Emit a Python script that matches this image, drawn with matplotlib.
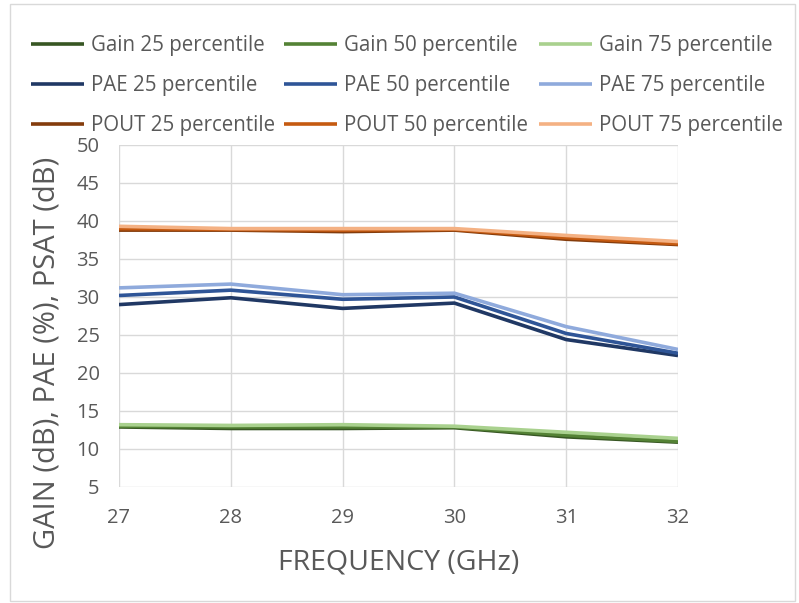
import matplotlib
matplotlib.use("Agg")
import matplotlib.pyplot as plt
from matplotlib.patches import Rectangle

freq = [27, 28, 29, 30, 31, 32]
gain_25 = [12.9, 12.7, 12.7, 12.8, 11.6, 10.9]
gain_50 = [13.0, 12.9, 12.9, 12.9, 11.8, 11.0]
gain_75 = [13.2, 13.1, 13.2, 13.0, 12.2, 11.4]
pae_25 = [29.0, 29.9, 28.5, 29.2, 24.4, 22.3]
pae_50 = [30.2, 30.9, 29.7, 30.0, 25.2, 22.6]
pae_75 = [31.2, 31.7, 30.3, 30.5, 26.1, 23.1]
pout_25 = [38.8, 38.8, 38.6, 38.8, 37.6, 36.9]
pout_50 = [39.0, 38.9, 38.8, 38.9, 37.8, 37.0]
pout_75 = [39.3, 39.0, 39.0, 39.0, 38.1, 37.3]
yticks = [5, 10, 15, 20, 25, 30, 35, 40, 45, 50]

series = [
    ("Gain 25 percentile", gain_25, "#375623"),
    ("Gain 50 percentile", gain_50, "#548235"),
    ("Gain 75 percentile", gain_75, "#A9D18E"),
    ("PAE 25 percentile", pae_25, "#203864"),
    ("PAE 50 percentile", pae_50, "#2F5597"),
    ("PAE 75 percentile", pae_75, "#8FAADC"),
    ("POUT 25 percentile", pout_25, "#843C0C"),
    ("POUT 50 percentile", pout_50, "#C55A11"),
    ("POUT 75 percentile", pout_75, "#F4B183"),
]

plt.rcParams['font.family'] = ['Open Sans', 'DejaVu Sans']
txt = "#595959"
fig = plt.figure(figsize=(7.99, 6.03), dpi=100)
W, H = 799, 603
ax = fig.add_axes([119 / W, 1 - 487 / H, (678 - 119) / W, (487 - 145) / H])

handles = []
for name, vals, col in series:
    ln, = ax.plot(freq, vals, color=col, lw=2.6, label=name, solid_capstyle='butt')
    handles.append(ln)

ax.set_xlim(27, 32)
ax.set_ylim(5, 50)
ax.set_yticks(yticks)
ax.set_xticks(freq)
ax.grid(True, color="#D9D9D9", lw=1)
ax.set_axisbelow(True)
for s in ax.spines.values():
    s.set_visible(False)
ax.tick_params(axis='x', length=0, labelsize=14.5, labelcolor=txt, pad=15)
ax.tick_params(axis='y', length=0, labelsize=14.5, labelcolor=txt, pad=14)
ax.set_xlabel("FREQUENCY (GHz)", fontsize=20.5, color=txt, labelpad=15)
ax.set_ylabel("GAIN (dB), PAE (%), PSAT (dB)", fontsize=21, color=txt,
              va='center', ha='center')
ax.yaxis.set_label_coords((47 - 119) / 559, (487 - 353) / 342)

col_x = [31, 284, 539]
for c in range(3):
    idx = [c, c + 3, c + 6]
    leg = fig.legend([handles[i] for i in idx], [series[i][0] for i in idx],
                     loc="upper left", bbox_to_anchor=(col_x[c] / W, 1 - 35 / H),
                     ncol=1, frameon=False, fontsize=14.8, labelcolor=txt,
                     handlelength=2.6, handletextpad=0.3, labelspacing=0.93,
                     borderpad=0, borderaxespad=0)

fig.patches.append(Rectangle((10 / W, 2 / H), 785 / W, 597 / H, transform=fig.transFigure,
                             fill=False, edgecolor="#D9D9D9", lw=1))
fig.savefig("out.png", dpi=100)
